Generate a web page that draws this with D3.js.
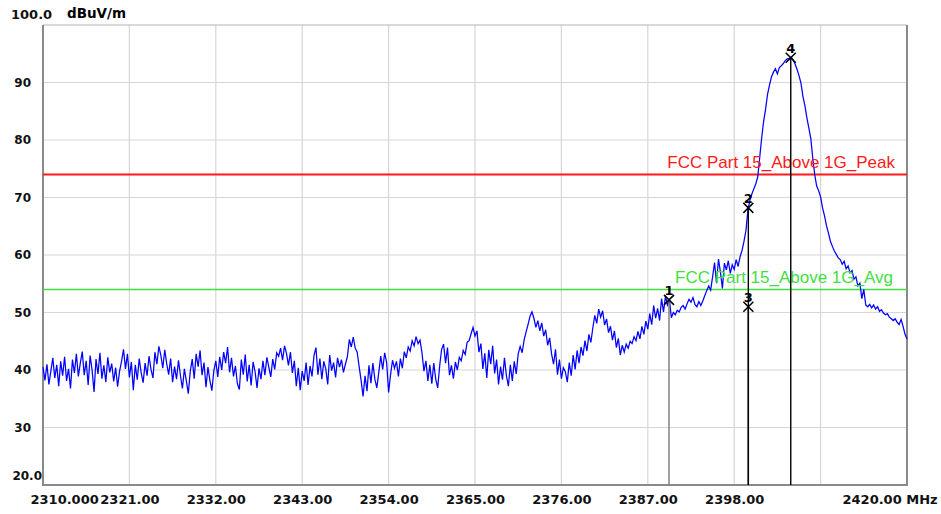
<!DOCTYPE html>
<html>
<head>
<meta charset="utf-8">
<script src="https://cdn.jsdelivr.net/npm/d3@7"></script>
<style>
  body { margin: 0; background: #fff; }
  .axis text { font-family: "DejaVu Sans", sans-serif; font-weight: bold; fill: #111; }
  .limit-label { font-family: "Liberation Sans", Arial, sans-serif; font-size: 17px; }
  .marker-label { font-family: "DejaVu Sans", sans-serif; font-size: 13px; font-weight: bold; }
</style>
</head>
<body>
<div id="chart"></div>
<script>
// sweep: 2310 MHz .. 2420 MHz, one reading every 0.25 MHz
var sweepStart = 2310, sweepStep = 0.25;

var traceLevels = [
  40.5, 38.2, 41.0, 37.5, 39.8, 42.1, 38.6, 40.9, 37.2, 41.5, 39.0, 42.3, 38.1, 40.2, 36.8, 41.8, 39.5, 42.8, 38.9, 41.2,
  43.2, 39.1, 41.6, 37.4, 42.5, 40.0, 36.2, 41.9, 39.3, 43.0, 38.5, 40.8, 37.9, 42.2, 39.6, 41.1, 38.0, 40.4, 37.1, 39.8,
  41.5, 43.6, 40.2, 42.8, 38.7, 41.4, 36.5, 40.9, 38.3, 42.0, 39.5, 37.8, 41.2, 39.0, 42.4, 40.1, 38.6, 43.1, 41.0, 44.1,
  42.6, 40.3, 43.5, 41.1, 39.2, 42.0, 37.9, 40.6, 38.4, 41.7, 39.0, 36.8, 40.2, 38.1, 35.9, 39.8, 41.9, 38.5, 42.8, 40.6,
  43.4, 39.1, 41.3, 37.0, 40.5, 38.2, 36.4, 39.9, 41.6, 38.8, 42.3, 40.0, 43.1, 41.2, 44.0, 39.6, 42.1, 38.9, 40.7, 37.6,
  36.6, 41.8, 39.2, 42.7, 38.0, 40.9, 37.3, 41.4, 39.7, 36.9, 40.3, 38.4, 41.6, 39.1, 42.2, 40.5, 38.8, 41.9, 40.1, 43.0,
  42.4, 43.8, 41.7, 44.2, 42.9, 40.8, 43.1, 39.5, 41.6, 37.2, 40.4, 36.5, 39.8, 38.1, 41.3, 37.4, 40.7, 38.9, 42.5, 43.9,
  39.2, 42.0, 38.4, 41.5, 40.2, 37.5, 42.6, 39.9, 41.3, 38.7, 42.1, 40.5, 41.8, 39.6, 41.0, 42.3, 45.3, 44.0, 45.7, 43.8,
  43.1, 40.6, 38.2, 35.4, 39.0, 36.3, 40.8, 37.7, 41.2, 38.4, 36.9, 39.6, 42.4, 40.1, 43.0, 41.3, 36.1, 39.2, 41.7, 40.3,
  41.5, 38.9, 42.0, 40.3, 43.2, 42.1, 44.0, 43.3, 45.1, 44.2, 45.8, 44.6, 45.2, 43.0, 39.8, 41.6, 38.1, 40.9, 37.6, 41.2,
  38.4, 36.9, 40.7, 43.6, 44.5, 41.2, 43.9, 39.1, 40.8, 38.5, 41.4, 40.0, 42.2, 41.6, 43.4, 42.7, 44.8, 45.1, 46.3, 47.4,
  45.9, 46.8, 43.1, 44.6, 40.2, 42.9, 38.6, 43.5, 41.0, 44.2, 39.4, 41.8, 37.5, 40.6, 38.3, 42.1, 39.0, 37.2, 40.9, 38.1,
  41.5, 39.3, 42.8, 44.1, 43.0, 45.2, 46.6, 47.9, 49.3, 50.1, 49.0, 47.4, 48.6, 46.8, 48.2, 45.9, 47.0, 44.3, 45.6, 42.8,
  41.0, 43.6, 39.2, 41.8, 38.5, 40.4, 39.7, 37.9, 41.3, 39.0, 42.6, 40.1, 43.4, 41.2, 44.0, 42.5, 45.1, 43.3, 46.2, 44.8,
  47.3, 49.5, 48.1, 50.6, 49.2, 50.3, 47.8, 48.9, 46.5, 47.6, 45.2, 46.8, 43.9, 45.5, 42.6, 44.3, 43.1, 44.5, 43.8, 45.0,
  44.6, 45.8, 45.1, 46.7, 45.4, 47.6, 46.2, 48.5, 47.1, 49.8, 47.9, 51.2, 49.0, 50.7, 48.6, 52.4, 50.1, 52.8, 51.3, 52.2,
  49.1, 50.0, 49.6, 50.4, 50.1, 50.9, 51.2, 50.6, 51.5, 52.3, 51.8, 52.6, 51.4, 51.0, 51.9, 51.2, 52.0, 52.9, 53.8, 54.6,
  53.9, 56.2, 58.7, 55.1, 59.3, 57.0, 54.2, 58.6, 57.4, 59.0, 56.8, 58.3, 57.5, 59.2, 58.0, 59.7, 60.8, 62.4, 64.3, 67.9,
  69.5, 70.6, 71.5, 72.4, 73.6, 77.0, 80.4, 83.3, 85.4, 88.0, 89.6, 91.0, 91.8, 92.4, 91.5, 92.6, 92.9, 93.3, 93.8, 94.1,
  94.2, 94.4, 93.9, 93.2, 92.3, 91.2, 89.9, 87.6, 86.0, 83.9, 82.1, 80.3, 76.9, 74.0, 72.0, 71.2, 70.1, 68.2, 66.8, 65.1,
  63.8, 62.4, 61.5, 60.7, 60.1, 59.5, 59.2, 58.4, 58.9, 57.6, 58.1, 56.9, 57.3, 55.8, 56.2, 54.6, 55.1, 52.4, 54.0, 51.3,
  51.0, 51.4, 50.8, 51.3, 50.6, 51.0, 50.2, 50.5, 49.9, 49.6, 49.8, 49.2, 48.9, 48.6, 48.9, 48.3, 47.9, 48.8, 47.6, 46.2,
  45.4
];

var xTickValues = [2310, 2321, 2332, 2343, 2354, 2365, 2376, 2387, 2398, 2409, 2420];
var xTickLabels = ["2310.000", "2321.00", "2332.00", "2343.00", "2354.00", "2365.00", "2376.00", "2387.00", "2398.00", "", "2420.00 MHz"];
var yTickValues = [20, 30, 40, 50, 60, 70, 80, 90, 100];
var yTickLabels = ["20.0", "30", "40", "50", "60", "70", "80", "90", "100.0"];
var yUnit = "dBuV/m";

var limitNames = ["FCC Part 15_Above 1G_Peak", "FCC Part 15_Above 1G_Avg"];
var limitLevels = [74, 54];
var limitColors = ["#ff1a1a", "#3fe03f"];

var markerNames = ["1", "2", "3", "4"];
var markerFreqs = [2389.7, 2399.8, 2399.8, 2405.2];
var markerLevels = [52.2, 68.2, 51.0, 94.3];
var markerColors = ["#7a7a7a", "#000", "#000", "#000"];

draw();

function draw() {
    var width = 941, height = 514;
    var left = 43, right = 907, top = 25, bottom = 485;

    var xScale = d3.scaleLinear().domain([2310, 2420]).range([left, right]),
        yScale = d3.scaleLinear().domain([20, 100]).range([bottom, top]);

    var svg = d3.select("#chart").append("svg")
        .attr("width", width)
        .attr("height", height)
        .style("background", "#fff");

    // grid
    svg.append("g").selectAll("line")
        .data(xTickValues.slice(1, -1))
      .enter().append("line")
        .attr("x1", function(d) { return xScale(d); })
        .attr("x2", function(d) { return xScale(d); })
        .attr("y1", top).attr("y2", bottom)
        .attr("stroke", "#d6d6d6").attr("stroke-width", 1.2);

    svg.append("g").selectAll("line")
        .data(yTickValues.slice(1, -1))
      .enter().append("line")
        .attr("x1", left).attr("x2", right)
        .attr("y1", function(d) { return yScale(d); })
        .attr("y2", function(d) { return yScale(d); })
        .attr("stroke", "#d6d6d6").attr("stroke-width", 1.2);

    // frame
    svg.append("line").attr("x1", left).attr("x2", right).attr("y1", top).attr("y2", top)
        .attr("stroke", "#b4b4b4").attr("stroke-width", 1.2);
    svg.append("path")
        .attr("d", "M" + left + "," + top + "V" + bottom + "H" + right + "V" + top)
        .attr("fill", "none").attr("stroke", "#8a8a8a").attr("stroke-width", 2);

    // limit lines
    limitLevels.forEach(function(v, i) {
        svg.append("line")
            .attr("x1", left).attr("x2", right)
            .attr("y1", yScale(v)).attr("y2", yScale(v))
            .attr("stroke", limitColors[i]).attr("stroke-width", i == 0 ? 2 : 1.5);
    });

    // trace
    var line = d3.line()
        .x(function(d, i) { return xScale(sweepStart + i * sweepStep); })
        .y(function(d) { return yScale(d); });

    svg.append("path")
        .datum(traceLevels)
        .attr("d", line)
        .attr("fill", "none")
        .attr("stroke", "#0000ff")
        .attr("stroke-width", 1.25);

    // limit labels drawn over the trace
    limitLevels.forEach(function(v, i) {
        svg.append("text")
            .attr("class", "limit-label")
            .attr("x", i == 0 ? 895 : 893)
            .attr("y", yScale(v) - 7)
            .attr("text-anchor", "end")
            .attr("fill", limitColors[i])
            .text(limitNames[i]);
    });

    // markers
    markerNames.forEach(function(n, i) {
        var mx = xScale(markerFreqs[i]), my = yScale(markerLevels[i]);
        svg.append("line")
            .attr("x1", mx).attr("x2", mx)
            .attr("y1", my).attr("y2", bottom)
            .attr("stroke", markerColors[i]).attr("stroke-width", 1.4);
        svg.append("path")
            .attr("d", "M" + (mx - 5) + "," + (my - 5) + "L" + (mx + 5) + "," + (my + 5) +
                       "M" + (mx + 5) + "," + (my - 5) + "L" + (mx - 5) + "," + (my + 5))
            .attr("stroke", "#000").attr("stroke-width", 1.5);
        svg.append("text")
            .attr("class", "marker-label")
            .attr("x", mx).attr("y", my - 5)
            .attr("text-anchor", "middle")
            .text(n);
    });

    // x axis
    var xAxis = d3.axisBottom(xScale)
        .tickValues(xTickValues)
        .tickFormat(function(d, i) { return xTickLabels[i]; })
        .tickSize(0).tickPadding(10);

    var gx = svg.append("g")
        .attr("class", "axis")
        .attr("transform", "translate(0," + bottom + ")")
        .call(xAxis);
    gx.select(".domain").remove();
    gx.selectAll("text").style("font-size", "13px");
    gx.selectAll(".tick").filter(function(d) { return d == 2310; }).select("text")
        .attr("text-anchor", "start").attr("x", -13);
    gx.selectAll(".tick").filter(function(d) { return d == 2420; }).select("text")
        .attr("text-anchor", "start").attr("x", -65);

    // y axis: labels sit left of the frame, range ends pulled up
    var yAxis = d3.axisLeft(yScale)
        .tickValues(yTickValues)
        .tickFormat(function(d, i) { return yTickLabels[i]; })
        .tickSize(0).tickPadding(12);

    var gy = svg.append("g")
        .attr("class", "axis")
        .attr("transform", "translate(" + left + ",0)")
        .call(yAxis);
    gy.select(".domain").remove();
    gy.selectAll("text").style("font-size", "12px");
    gy.selectAll(".tick").filter(function(d) { return d == 20; }).select("text")
        .attr("y", -9).attr("x", -1);
    gy.selectAll(".tick").filter(function(d) { return d == 100; }).select("text")
        .attr("y", -11).attr("x", -32).attr("text-anchor", "start")
        .style("font-size", "13px");

    svg.append("text")
        .attr("class", "axis")
        .attr("x", 67).attr("y", yScale(100) - 7)
        .style("font-family", "DejaVu Sans, sans-serif")
        .style("font-weight", "bold")
        .style("font-size", "13.5px")
        .text(yUnit);
}
</script>
</body>
</html>
